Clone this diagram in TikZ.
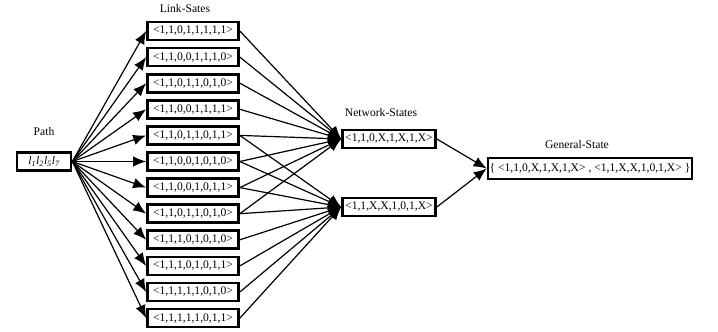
\documentclass[tikz,border=0pt]{standalone}
\usepackage{fontspec}
\setmainfont{Liberation Serif}
\usetikzlibrary{arrows.meta}
\begin{document}
\begin{tikzpicture}[x=1pt,y=-1pt,
   every node/.style={font=\fontsize{11.6}{13}\selectfont},
   statebox/.style={draw,line width=2.7pt,inner sep=0pt,minimum height=18pt},
   linkbox/.style={statebox,minimum width=91pt},
   arr/.style={-{Latex[length=13pt,width=10.5pt]},line width=1.2pt}]
   \useasboundingbox (0,0) rectangle (718,332);

   % labels
   \node (pathlbl) at (44,132) {Path};
   \node (linklbl) at (185,9) {Link-Sates};
   \node (netlbl) at (381,113) {Network-States};
   \node (genlbl) at (577,145) {General-State};

   % path
   \node[statebox,minimum width=54pt] (path) at (44,161.5)
      {\itshape l\textsubscript{1}l\textsubscript{2}l\textsubscript{5}l\textsubscript{7}};

   % link states
   \node[linkbox] (l1) at (193,31.0) {<1,1,0,1,1,1,1,1>};
   \node[linkbox] (l2) at (193,57.1) {<1,1,0,0,1,1,1,0>};
   \node[linkbox] (l3) at (193,83.2) {<1,1,0,1,1,0,1,0>};
   \node[linkbox] (l4) at (193,109.3) {<1,1,0,0,1,1,1,1>};
   \node[linkbox] (l5) at (193,135.4) {<1,1,0,1,1,0,1,1>};
   \node[linkbox] (l6) at (193,161.5) {<1,1,0,0,1,0,1,0>};
   \node[linkbox] (l7) at (193,187.6) {<1,1,0,0,1,0,1,1>};
   \node[linkbox] (l8) at (193,213.7) {<1,1,0,1,1,0,1,0>};
   \node[linkbox] (l9) at (193,239.8) {<1,1,1,0,1,0,1,0>};
   \node[linkbox] (l10) at (193,265.9) {<1,1,1,0,1,0,1,1>};
   \node[linkbox] (l11) at (193,292.0) {<1,1,1,1,1,0,1,0>};
   \node[linkbox] (l12) at (193,318.1) {<1,1,1,1,1,0,1,1>};

   % network states
   \node[statebox,minimum width=93pt] (ns1) at (389,139) {<1,1,0,X,1,X,1,X>};
   \node[statebox,minimum width=93pt] (ns2) at (389,207) {<1,1,X,X,1,0,1,X>};

   % general state
   \node[statebox,minimum width=204pt,minimum height=21pt] (gs) at (590,168.5)
      {\{ <1,1,0,X,1,X,1,X> , <1,1,X,X,1,0,1,X> \}};

   % path to link states
   \draw[arr] (path.east) -- (l1.west);
   \draw[arr] (path.east) -- (l2.west);
   \draw[arr] (path.east) -- (l3.west);
   \draw[arr] (path.east) -- (l4.west);
   \draw[arr] (path.east) -- (l5.west);
   \draw[arr] (path.east) -- (l6.west);
   \draw[arr] (path.east) -- (l7.west);
   \draw[arr] (path.east) -- (l8.west);
   \draw[arr] (path.east) -- (l9.west);
   \draw[arr] (path.east) -- (l10.west);
   \draw[arr] (path.east) -- (l11.west);
   \draw[arr] (path.east) -- (l12.west);

   % link states to network states
   \draw[arr] (l1.east) -- (ns1.west);
   \draw[arr] (l2.east) -- (ns1.west);
   \draw[arr] (l3.east) -- (ns1.west);
   \draw[arr] (l4.east) -- (ns1.west);
   \draw[arr] (l5.east) -- (ns1.west);
   \draw[arr] (l6.east) -- (ns1.west);
   \draw[arr] (l7.east) -- (ns1.west);
   \draw[arr] (l8.east) -- (ns1.west);
   \draw[arr] (l5.east) -- (ns2.west);
   \draw[arr] (l6.east) -- (ns2.west);
   \draw[arr] (l7.east) -- (ns2.west);
   \draw[arr] (l8.east) -- (ns2.west);
   \draw[arr] (l9.east) -- (ns2.west);
   \draw[arr] (l10.east) -- (ns2.west);
   \draw[arr] (l11.east) -- (ns2.west);
   \draw[arr] (l12.east) -- (ns2.west);

   % network states to general state
   \draw[arr] (ns1.east) -- (gs.west);
   \draw[arr] (ns2.east) -- (gs.west);
\end{tikzpicture}
\end{document}
